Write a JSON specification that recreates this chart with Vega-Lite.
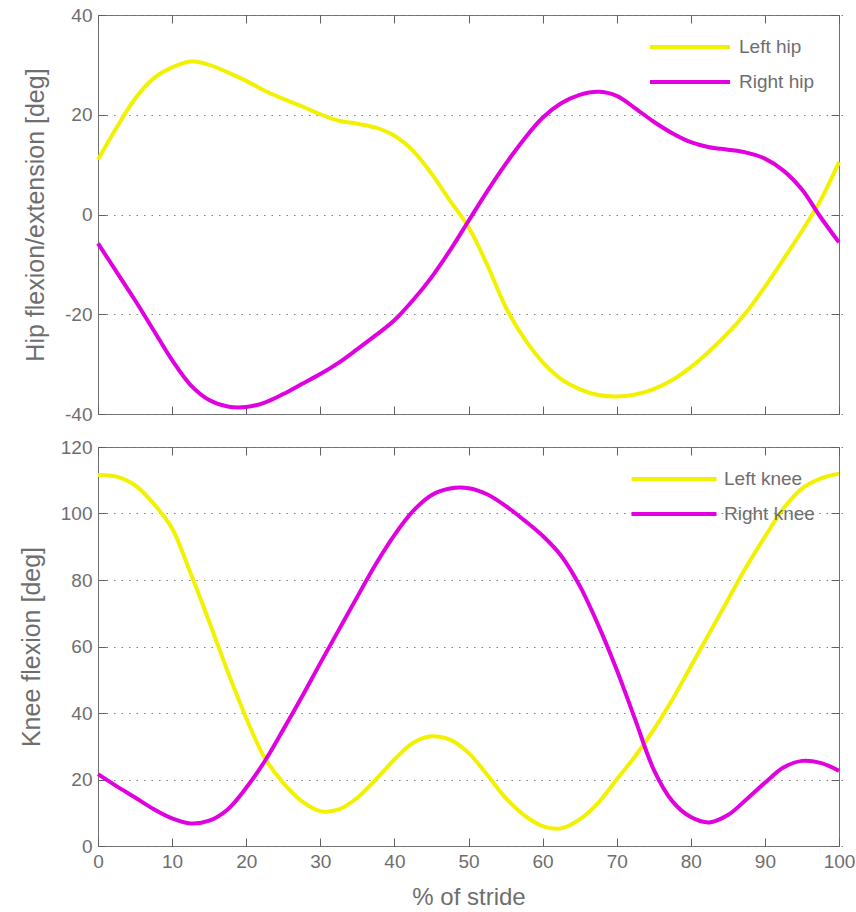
{
  "$schema": "https://vega.github.io/schema/vega-lite/v6.json",
  "padding": {"left": 18, "top": 5, "right": 0, "bottom": 0},
  "background": "white",
  "config": {
    "font": "Liberation Sans",
    "view": {"stroke": "#707070", "strokeWidth": 1},
    "axis": {
      "domain": false,
      "ticks": true,
      "tickColor": "#606060",
      "tickWidth": 1,
      "labelColor": "#6e6e6e",
      "titleColor": "#6e6e6e",
      "labelFont": "Liberation Sans",
      "titleFont": "Liberation Sans",
      "labelFontSize": 19,
      "titleFontWeight": "normal",
      "tickSize": 8,
      "offset": -8,
      "labelPadding": 6,
      "labelExpr": "toString(datum.value)"
    },
    "legend": {
      "labelFont": "Liberation Sans",
      "labelFontSize": 19,
      "labelColor": "#6e6e6e"
    }
  },
  "datasets": {
    "hip": [
      {"pct": 0, "angle": 11, "series": "Left hip"},
      {"pct": 2.5, "angle": 17.4, "series": "Left hip"},
      {"pct": 5, "angle": 23.2, "series": "Left hip"},
      {"pct": 7.5, "angle": 27.3, "series": "Left hip"},
      {"pct": 10, "angle": 29.5, "series": "Left hip"},
      {"pct": 12.5, "angle": 30.7, "series": "Left hip"},
      {"pct": 15, "angle": 30.0, "series": "Left hip"},
      {"pct": 17.5, "angle": 28.5, "series": "Left hip"},
      {"pct": 20, "angle": 26.8, "series": "Left hip"},
      {"pct": 22.5, "angle": 24.8, "series": "Left hip"},
      {"pct": 25, "angle": 23.2, "series": "Left hip"},
      {"pct": 27.5, "angle": 21.7, "series": "Left hip"},
      {"pct": 30, "angle": 20.1, "series": "Left hip"},
      {"pct": 32.5, "angle": 18.8, "series": "Left hip"},
      {"pct": 35, "angle": 18.2, "series": "Left hip"},
      {"pct": 37.5, "angle": 17.4, "series": "Left hip"},
      {"pct": 40, "angle": 15.8, "series": "Left hip"},
      {"pct": 42.5, "angle": 12.8, "series": "Left hip"},
      {"pct": 45, "angle": 8.2, "series": "Left hip"},
      {"pct": 47.5, "angle": 2.8, "series": "Left hip"},
      {"pct": 50, "angle": -2.5, "series": "Left hip"},
      {"pct": 52.5, "angle": -10, "series": "Left hip"},
      {"pct": 55, "angle": -18.5, "series": "Left hip"},
      {"pct": 57.5, "angle": -24.8, "series": "Left hip"},
      {"pct": 60, "angle": -29.6, "series": "Left hip"},
      {"pct": 62.5, "angle": -33, "series": "Left hip"},
      {"pct": 65, "angle": -35, "series": "Left hip"},
      {"pct": 67.5, "angle": -36.2, "series": "Left hip"},
      {"pct": 70, "angle": -36.5, "series": "Left hip"},
      {"pct": 72.5, "angle": -36.1, "series": "Left hip"},
      {"pct": 75, "angle": -35, "series": "Left hip"},
      {"pct": 77.5, "angle": -33.2, "series": "Left hip"},
      {"pct": 80, "angle": -30.6, "series": "Left hip"},
      {"pct": 82.5, "angle": -27.4, "series": "Left hip"},
      {"pct": 85, "angle": -23.8, "series": "Left hip"},
      {"pct": 87.5, "angle": -19.6, "series": "Left hip"},
      {"pct": 90, "angle": -14.5, "series": "Left hip"},
      {"pct": 92.5, "angle": -9, "series": "Left hip"},
      {"pct": 95, "angle": -3.3, "series": "Left hip"},
      {"pct": 97.5, "angle": 2.8, "series": "Left hip"},
      {"pct": 100, "angle": 10.5, "series": "Left hip"},
      {"pct": 0, "angle": -5.8, "series": "Right hip"},
      {"pct": 2.5, "angle": -11.5, "series": "Right hip"},
      {"pct": 5, "angle": -17.2, "series": "Right hip"},
      {"pct": 7.5, "angle": -23.2, "series": "Right hip"},
      {"pct": 10, "angle": -29.2, "series": "Right hip"},
      {"pct": 12.5, "angle": -34.2, "series": "Right hip"},
      {"pct": 15, "angle": -37.2, "series": "Right hip"},
      {"pct": 17.5, "angle": -38.5, "series": "Right hip"},
      {"pct": 20, "angle": -38.6, "series": "Right hip"},
      {"pct": 22.5, "angle": -37.7, "series": "Right hip"},
      {"pct": 25, "angle": -36, "series": "Right hip"},
      {"pct": 27.5, "angle": -34, "series": "Right hip"},
      {"pct": 30, "angle": -32, "series": "Right hip"},
      {"pct": 32.5, "angle": -29.7, "series": "Right hip"},
      {"pct": 35, "angle": -27, "series": "Right hip"},
      {"pct": 37.5, "angle": -24.2, "series": "Right hip"},
      {"pct": 40, "angle": -21.2, "series": "Right hip"},
      {"pct": 42.5, "angle": -17.2, "series": "Right hip"},
      {"pct": 45, "angle": -12.6, "series": "Right hip"},
      {"pct": 47.5, "angle": -7.2, "series": "Right hip"},
      {"pct": 50, "angle": -1.3, "series": "Right hip"},
      {"pct": 52.5, "angle": 4.6, "series": "Right hip"},
      {"pct": 55, "angle": 10.1, "series": "Right hip"},
      {"pct": 57.5, "angle": 15.1, "series": "Right hip"},
      {"pct": 60, "angle": 19.4, "series": "Right hip"},
      {"pct": 62.5, "angle": 22.3, "series": "Right hip"},
      {"pct": 65, "angle": 24, "series": "Right hip"},
      {"pct": 67.5, "angle": 24.6, "series": "Right hip"},
      {"pct": 70, "angle": 23.8, "series": "Right hip"},
      {"pct": 72.5, "angle": 21.3, "series": "Right hip"},
      {"pct": 75, "angle": 18.6, "series": "Right hip"},
      {"pct": 77.5, "angle": 16.3, "series": "Right hip"},
      {"pct": 80, "angle": 14.5, "series": "Right hip"},
      {"pct": 82.5, "angle": 13.5, "series": "Right hip"},
      {"pct": 85, "angle": 13, "series": "Right hip"},
      {"pct": 87.5, "angle": 12.4, "series": "Right hip"},
      {"pct": 90, "angle": 11.2, "series": "Right hip"},
      {"pct": 92.5, "angle": 8.8, "series": "Right hip"},
      {"pct": 95, "angle": 5, "series": "Right hip"},
      {"pct": 97.5, "angle": -0.5, "series": "Right hip"},
      {"pct": 100, "angle": -5.6, "series": "Right hip"}
    ],
    "knee": [
      {"pct": 0, "angle": 111.6, "series": "Left knee"},
      {"pct": 2.5, "angle": 111.1, "series": "Left knee"},
      {"pct": 5, "angle": 108.5, "series": "Left knee"},
      {"pct": 7.5, "angle": 103, "series": "Left knee"},
      {"pct": 10, "angle": 95.5, "series": "Left knee"},
      {"pct": 12.5, "angle": 82, "series": "Left knee"},
      {"pct": 15, "angle": 67.5, "series": "Left knee"},
      {"pct": 17.5, "angle": 52.5, "series": "Left knee"},
      {"pct": 20, "angle": 38.5, "series": "Left knee"},
      {"pct": 22.5, "angle": 26.5, "series": "Left knee"},
      {"pct": 25, "angle": 19, "series": "Left knee"},
      {"pct": 27.5, "angle": 13.5, "series": "Left knee"},
      {"pct": 30, "angle": 10.5, "series": "Left knee"},
      {"pct": 32.5, "angle": 11, "series": "Left knee"},
      {"pct": 35, "angle": 14.5, "series": "Left knee"},
      {"pct": 37.5, "angle": 20, "series": "Left knee"},
      {"pct": 40, "angle": 26, "series": "Left knee"},
      {"pct": 42.5, "angle": 31, "series": "Left knee"},
      {"pct": 45, "angle": 33, "series": "Left knee"},
      {"pct": 47.5, "angle": 32, "series": "Left knee"},
      {"pct": 50, "angle": 28, "series": "Left knee"},
      {"pct": 52.5, "angle": 21.5, "series": "Left knee"},
      {"pct": 55, "angle": 14.5, "series": "Left knee"},
      {"pct": 57.5, "angle": 9.3, "series": "Left knee"},
      {"pct": 60, "angle": 6, "series": "Left knee"},
      {"pct": 62.5, "angle": 5.3, "series": "Left knee"},
      {"pct": 65, "angle": 8, "series": "Left knee"},
      {"pct": 67.5, "angle": 13, "series": "Left knee"},
      {"pct": 70, "angle": 20, "series": "Left knee"},
      {"pct": 72.5, "angle": 27, "series": "Left knee"},
      {"pct": 75, "angle": 35, "series": "Left knee"},
      {"pct": 77.5, "angle": 44, "series": "Left knee"},
      {"pct": 80, "angle": 54, "series": "Left knee"},
      {"pct": 82.5, "angle": 64, "series": "Left knee"},
      {"pct": 85, "angle": 74, "series": "Left knee"},
      {"pct": 87.5, "angle": 84, "series": "Left knee"},
      {"pct": 90, "angle": 93, "series": "Left knee"},
      {"pct": 92.5, "angle": 101.5, "series": "Left knee"},
      {"pct": 95, "angle": 107.5, "series": "Left knee"},
      {"pct": 97.5, "angle": 110.5, "series": "Left knee"},
      {"pct": 100, "angle": 112, "series": "Left knee"},
      {"pct": 0, "angle": 21.6, "series": "Right knee"},
      {"pct": 2.5, "angle": 18, "series": "Right knee"},
      {"pct": 5, "angle": 14.6, "series": "Right knee"},
      {"pct": 7.5, "angle": 11.1, "series": "Right knee"},
      {"pct": 10, "angle": 8.3, "series": "Right knee"},
      {"pct": 12.5, "angle": 6.8, "series": "Right knee"},
      {"pct": 15, "angle": 7.6, "series": "Right knee"},
      {"pct": 17.5, "angle": 11, "series": "Right knee"},
      {"pct": 20, "angle": 17.5, "series": "Right knee"},
      {"pct": 22.5, "angle": 25.5, "series": "Right knee"},
      {"pct": 25, "angle": 35, "series": "Right knee"},
      {"pct": 27.5, "angle": 44.8, "series": "Right knee"},
      {"pct": 30, "angle": 55, "series": "Right knee"},
      {"pct": 32.5, "angle": 65, "series": "Right knee"},
      {"pct": 35, "angle": 75, "series": "Right knee"},
      {"pct": 37.5, "angle": 84.8, "series": "Right knee"},
      {"pct": 40, "angle": 93.5, "series": "Right knee"},
      {"pct": 42.5, "angle": 100.7, "series": "Right knee"},
      {"pct": 45, "angle": 105.5, "series": "Right knee"},
      {"pct": 47.5, "angle": 107.5, "series": "Right knee"},
      {"pct": 50, "angle": 107.6, "series": "Right knee"},
      {"pct": 52.5, "angle": 105.8, "series": "Right knee"},
      {"pct": 55, "angle": 102.3, "series": "Right knee"},
      {"pct": 57.5, "angle": 98, "series": "Right knee"},
      {"pct": 60, "angle": 93.3, "series": "Right knee"},
      {"pct": 62.5, "angle": 87.3, "series": "Right knee"},
      {"pct": 65, "angle": 78.3, "series": "Right knee"},
      {"pct": 67.5, "angle": 66.5, "series": "Right knee"},
      {"pct": 70, "angle": 53, "series": "Right knee"},
      {"pct": 72.5, "angle": 38, "series": "Right knee"},
      {"pct": 75, "angle": 23, "series": "Right knee"},
      {"pct": 77.5, "angle": 13.5, "series": "Right knee"},
      {"pct": 80, "angle": 8.7, "series": "Right knee"},
      {"pct": 82.5, "angle": 7.1, "series": "Right knee"},
      {"pct": 85, "angle": 9.3, "series": "Right knee"},
      {"pct": 87.5, "angle": 14, "series": "Right knee"},
      {"pct": 90, "angle": 19, "series": "Right knee"},
      {"pct": 92.5, "angle": 23.6, "series": "Right knee"},
      {"pct": 95, "angle": 25.6, "series": "Right knee"},
      {"pct": 97.5, "angle": 25, "series": "Right knee"},
      {"pct": 100, "angle": 22.6, "series": "Right knee"}
    ]
  },
  "vconcat": [
    {
      "width": 741,
      "height": 399,
      "data": {"name": "hip"},
      "layer": [
        {
          "mark": {"type": "line", "strokeWidth": 4, "interpolate": "catmull-rom"},
          "encoding": {
            "x": {"field": "pct", "type": "quantitative", "scale": {"domain": [0, 100], "nice": false},
              "axis": {"values": [0,10,20,30,40,50,60,70,80,90,100], "labels": false, "title": null, "grid": false}},
            "y": {"field": "angle", "type": "quantitative", "scale": {"domain": [-40, 40], "nice": false},
              "axis": {"values": [-40,-20,0,20,40], "title": "Hip flexion/extension [deg]", "titleFontSize": 25, "titlePadding": 16,
                "grid": true, "gridDash": [1.5, 6], "gridColor": "#808080", "gridWidth": 1.2}},
            "color": {"field": "series", "type": "nominal",
              "scale": {"domain": ["Left hip", "Right hip"], "range": ["#f2f200", "#e000e0"]},
              "legend": {"title": null, "orient": "none", "legendX": 580, "legendY": 20, "symbolType": "M-4,0H4", "symbolSize": 400, "symbolStrokeWidth": 4, "labelOffset": 37, "rowPadding": 13}}
          }
        },
        {
          "mark": {"type": "line", "strokeWidth": 0, "opacity": 0},
          "encoding": {
            "x": {"field": "pct", "type": "quantitative", "axis": {"orient": "top", "values": [0,10,20,30,40,50,60,70,80,90,100], "labels": false, "title": null, "grid": false}},
            "y": {"field": "angle", "type": "quantitative", "axis": {"orient": "right", "values": [-40,-20,0,20,40], "labels": false, "title": null, "grid": false}},
            "detail": {"field": "series"}
          }
        }
      ],
      "resolve": {"axis": {"x": "independent", "y": "independent"}}
    },
    {
      "width": 741,
      "height": 399,
      "data": {"name": "knee"},
      "layer": [
        {
          "mark": {"type": "line", "strokeWidth": 4, "interpolate": "catmull-rom"},
          "encoding": {
            "x": {"field": "pct", "type": "quantitative", "scale": {"domain": [0, 100], "nice": false},
              "axis": {"values": [0,10,20,30,40,50,60,70,80,90,100], "title": "% of stride", "titleFontSize": 24, "titlePadding": 14, "labelFlush": false, "grid": false}},
            "y": {"field": "angle", "type": "quantitative", "scale": {"domain": [0, 120], "nice": false},
              "axis": {"values": [0,20,40,60,80,100,120], "title": "Knee flexion [deg]", "titleFontSize": 25, "titlePadding": 16,
                "grid": true, "gridDash": [1.5, 6], "gridColor": "#808080", "gridWidth": 1.2}},
            "color": {"field": "series", "type": "nominal",
              "scale": {"domain": ["Left knee", "Right knee"], "range": ["#f2f200", "#e000e0"]},
              "legend": {"title": null, "orient": "none", "legendX": 564, "legendY": 20, "symbolType": "M-4.25,0H4.25", "symbolSize": 400, "symbolStrokeWidth": 4, "labelOffset": 38, "rowPadding": 13}}
          }
        },
        {
          "mark": {"type": "line", "strokeWidth": 0, "opacity": 0},
          "encoding": {
            "x": {"field": "pct", "type": "quantitative", "axis": {"orient": "top", "values": [0,10,20,30,40,50,60,70,80,90,100], "labels": false, "title": null, "grid": false}},
            "y": {"field": "angle", "type": "quantitative", "axis": {"orient": "right", "values": [0,20,40,60,80,100,120], "labels": false, "title": null, "grid": false}},
            "detail": {"field": "series"}
          }
        }
      ],
      "resolve": {"axis": {"x": "independent", "y": "independent"}}
    }
  ],
  "spacing": 33,
  "bounds": "flush",
  "resolve": {"scale": {"color": "independent"}, "legend": {"color": "independent"}}
}
